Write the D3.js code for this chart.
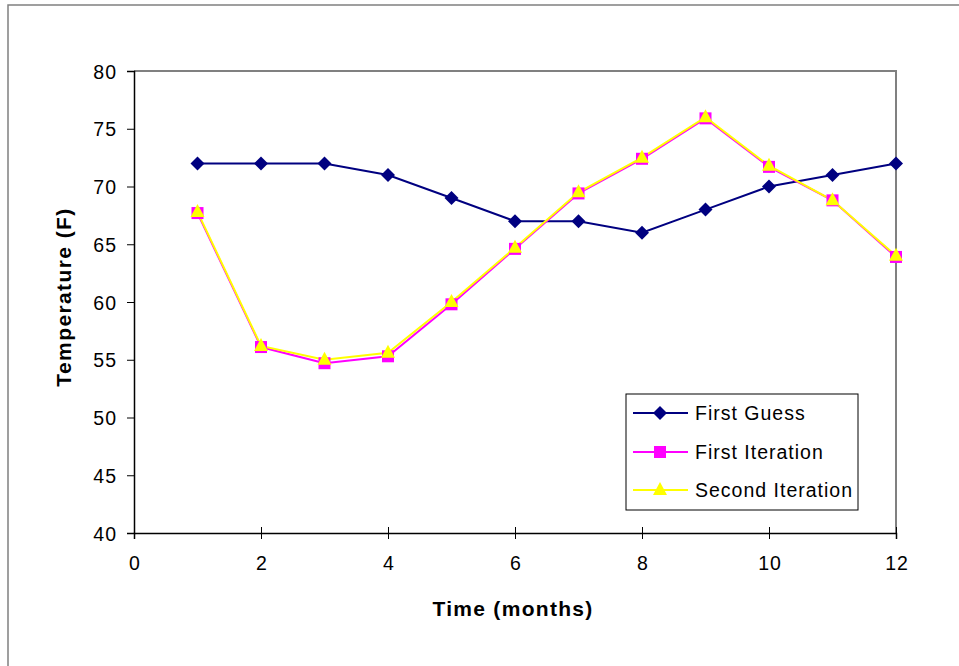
<!DOCTYPE html>
<html><head><meta charset="utf-8">
<script src="https://cdn.jsdelivr.net/npm/d3@7"></script>
<style>body{margin:0;background:#fff}svg{display:block}text{font-family:Arial,"Liberation Sans",sans-serif}</style>
</head><body>
<script>
const months = [1,2,3,4,5,6,7,8,9,10,11,12];
const firstGuess = [72,72,72,71,69,67,67,66,68,70,71,72];
const firstIteration = [67.7,56.1,54.7,55.3,59.8,64.6,69.4,72.4,75.9,71.7,68.8,63.9];
const secondIteration = [67.8,56.2,55.0,55.6,60.0,64.7,69.5,72.5,76.0,71.8,68.8,64.0];
const xTicks = [0,2,4,6,8,10,12];
const yTicks = [40,45,50,55,60,65,70,75,80];
const seriesNames = ["First Guess","First Iteration","Second Iteration"];

const W=959,H=666;
const svg=d3.select("body").append("svg").attr("width",W).attr("height",H);
svg.append("rect").attr("x",8).attr("y",5).attr("width",W+10).attr("height",H+10)
  .attr("fill","#fff").attr("stroke","#808080").attr("stroke-width",1.5);

const L=134,R=896,T=71,B=533;
const x=d3.scaleLinear().domain([0,12]).range([L,R]);
const y=d3.scaleLinear().domain([40,80]).range([B,T]);

svg.append("path").attr("d",`M${L},${T}H${R}V${B}`).attr("fill","none").attr("stroke","#808080").attr("stroke-width",2);

const yAxis=svg.append("g").attr("transform",`translate(${L},0)`)
  .call(d3.axisLeft(y).tickValues(yTicks).tickSize(7).tickPadding(10));
const xAxis=svg.append("g").attr("transform",`translate(0,${B})`)
  .call(d3.axisBottom(x).tickValues(xTicks).tickSize(6).tickPadding(17));
xAxis.selectAll(".tick line").attr("y1",-6);
[yAxis,xAxis].forEach(a=>{
  a.attr("font-family",null).attr("font-size",null);
  a.select(".domain").attr("stroke","#000").attr("stroke-width",1.5);
  a.selectAll(".tick line").attr("stroke","#000");
  a.selectAll("text").attr("font-size",19.5).attr("letter-spacing",1).attr("fill","#000");
});
yAxis.selectAll("text").attr("dy","0.36em");
xAxis.selectAll("text").attr("dx","0.5px");

svg.append("text").attr("x",513).attr("y",616).attr("text-anchor","middle")
  .attr("font-size",21).attr("font-weight","bold").attr("letter-spacing",1.3).text("Time (months)");
svg.append("text").attr("transform","translate(71,297) rotate(-90)").attr("text-anchor","middle")
  .attr("font-size",21).attr("font-weight","bold").attr("letter-spacing",1.4).text("Temperature (F)");

const line=d3.line().x((d,i)=>x(months[i])).y(d=>y(d));
const colors=["#000080","#FF00FF","#FFFF00"];
const data=[firstGuess,firstIteration,secondIteration];

function marker(g,k,cx,cy){
  if(k===0){
    const s=7;
    g.append("path").attr("d",`M${cx},${cy-s}L${cx+s},${cy}L${cx},${cy+s}L${cx-s},${cy}Z`).attr("fill",colors[0]);
  } else if(k===1){
    g.append("rect").attr("x",cx-6).attr("y",cy-6).attr("width",12).attr("height",12).attr("fill",colors[1]);
  } else {
    g.append("path").attr("d",`M${cx},${cy-8}L${cx+7},${cy+5}L${cx-7},${cy+5}Z`).attr("fill",colors[2]);
  }
}

data.forEach((vals,k)=>{
  svg.append("path").datum(vals).attr("d",line).attr("fill","none")
    .attr("stroke",colors[k]).attr("stroke-width",2);
});
data.forEach((vals,k)=>{
  const g=svg.append("g");
  vals.forEach((v,i)=>marker(g,k,x(months[i]),y(v)));
});

const lg=svg.append("g");
lg.append("rect").attr("x",626).attr("y",394).attr("width",232).attr("height",116)
  .attr("fill","#fff").attr("stroke","#000").attr("stroke-width",1);
const ly=[413,452,490];
seriesNames.forEach((n,k)=>{
  lg.append("line").attr("x1",633).attr("x2",688).attr("y1",ly[k]).attr("y2",ly[k])
    .attr("stroke",colors[k]).attr("stroke-width",2);
  marker(lg,k,660,ly[k]);
  lg.append("text").attr("x",695).attr("y",ly[k]).attr("dy","0.36em").attr("font-size",19.5)
    .attr("letter-spacing",1).text(n);
});
</script>
</body></html>
